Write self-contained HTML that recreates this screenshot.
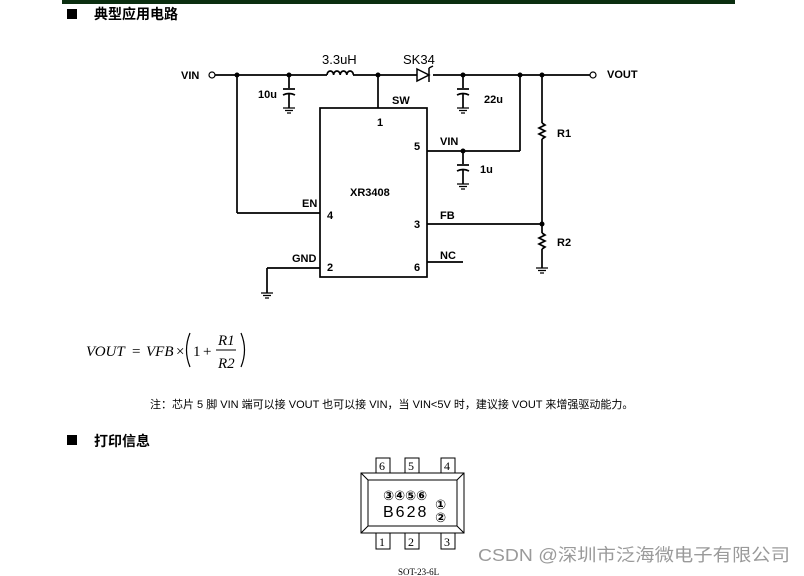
<!DOCTYPE html>
<html><head><meta charset="utf-8"><style>
body{margin:0;background:#fff;width:804px;height:576px;overflow:hidden}
svg{display:block}
.b{font-family:"Liberation Sans","Noto Sans CJK SC",sans-serif;font-weight:bold;font-size:11px;fill:#000}
.n{font-family:"Liberation Sans","Noto Sans CJK SC",sans-serif;font-size:13px;fill:#000}
</style></head><body>
<svg width="804" height="576" viewBox="0 0 804 576" xmlns="http://www.w3.org/2000/svg">
<rect x="62" y="0" width="673" height="4" fill="#0b2e10"/>
<rect x="67" y="9" width="10" height="10" fill="#000"/>
<text x="94" y="19" font-family="Liberation Sans,Noto Sans CJK SC,sans-serif" font-weight="bold" font-size="14">典型应用电路</text>
<g stroke="#000" stroke-width="1.7" fill="none">
<line x1="215" y1="75" x2="327" y2="75"/>
<path d="M327 75 a3.3 4 0 0 1 6.6 0 a3.3 4 0 0 1 6.6 0 a3.3 4 0 0 1 6.6 0 a3.3 4 0 0 1 6.6 0"/>
<line x1="353" y1="75" x2="417" y2="75"/>
<line x1="433" y1="75" x2="590" y2="75"/>
<line x1="237" y1="75" x2="237" y2="213"/><line x1="237" y1="213" x2="320" y2="213"/>
<line x1="378" y1="75" x2="378" y2="108"/>
<rect x="320" y="108" width="107" height="169"/>
<line x1="427" y1="151" x2="520" y2="151"/><line x1="520" y1="75" x2="520" y2="151"/>
<line x1="427" y1="224" x2="542" y2="224"/>
<line x1="427" y1="262" x2="463" y2="262"/>
<line x1="320" y1="268" x2="267" y2="268"/><line x1="267" y1="268" x2="267" y2="293"/>
<line x1="542" y1="75" x2="542" y2="123"/><path d="M542 123 l3 2 l-6 3 l6 3 l-6 3 l6 3 l-3 2"/><line x1="542" y1="139" x2="542" y2="233"/>
<path d="M542 233 l3 2 l-6 3 l6 3 l-6 3 l6 3 l-3 2"/><line x1="542" y1="249" x2="542" y2="268"/>
</g>
<g stroke="#000" stroke-width="1.7" fill="none">
<line x1="289" y1="75" x2="289" y2="88"/><line x1="283" y1="89" x2="295" y2="89"/><path d="M283 95 q6 -3 12 0"/><line x1="289" y1="94" x2="289" y2="108"/>
<line x1="463" y1="75" x2="463" y2="88"/><line x1="457" y1="89" x2="469" y2="89"/><path d="M457 95 q6 -3 12 0"/><line x1="463" y1="94" x2="463" y2="108"/>
<line x1="463" y1="151" x2="463" y2="164"/><line x1="457" y1="165" x2="469" y2="165"/><path d="M457 171 q6 -3 12 0"/><line x1="463" y1="170" x2="463" y2="184"/>
</g>
<g stroke="#000" stroke-width="1.3">
<path d="M283 108h12M285 110.5h8M287 113h4"/>
<path d="M457 108h12M459 110.5h8M461 113h4"/>
<path d="M457 184h12M459 186.5h8M461 189h4"/>
<path d="M536 268h12M538 270.5h8M540 273h4"/>
<path d="M261 293h12M263 295.5h8M265 298h4"/>
</g>
<path d="M417 69 L429 75 L417 81 Z" fill="#fff" stroke="#000" stroke-width="1.5"/>
<path d="M429 68 V82 M429 68 l4 -2" stroke="#000" stroke-width="1.5" fill="none"/>
<g fill="#000"><circle cx="237" cy="75" r="2.5"/><circle cx="289" cy="75" r="2.5"/><circle cx="378" cy="75" r="2.5"/><circle cx="463" cy="75" r="2.5"/><circle cx="520" cy="75" r="2.5"/><circle cx="542" cy="75" r="2.5"/><circle cx="463" cy="151" r="2.5"/><circle cx="542" cy="224" r="2.5"/></g>
<circle cx="212" cy="75" r="3" fill="#fff" stroke="#000" stroke-width="1.2"/>
<circle cx="593" cy="75" r="3" fill="#fff" stroke="#000" stroke-width="1.2"/>
<text class="b" x="181" y="79">VIN</text>
<text class="b" x="607" y="78">VOUT</text>
<text class="n" x="322" y="64">3.3uH</text>
<text class="n" x="403" y="64">SK34</text>
<text class="b" x="258" y="98">10u</text>
<text class="b" x="484" y="103">22u</text>
<text class="b" x="392" y="104">SW</text>
<text class="b" x="377" y="126">1</text>
<text class="b" x="440" y="145">VIN</text>
<text class="b" x="414" y="150">5</text>
<text class="b" x="480" y="173">1u</text>
<text class="b" x="350" y="196">XR3408</text>
<text class="b" x="302" y="207">EN</text>
<text class="b" x="327" y="219">4</text>
<text class="b" x="440" y="219">FB</text>
<text class="b" x="414" y="228">3</text>
<text class="b" x="440" y="259">NC</text>
<text class="b" x="292" y="262">GND</text>
<text class="b" x="327" y="271">2</text>
<text class="b" x="414" y="271">6</text>
<text class="b" x="557" y="137">R1</text>
<text class="b" x="557" y="246">R2</text>
<g font-family="Liberation Serif,serif" font-size="15" font-style="italic">
<text x="86" y="356">VOUT</text><text x="132" y="356" font-style="normal">=</text><text x="146" y="356">VFB</text>
<text x="176" y="356" font-style="normal">×</text>
<text x="193" y="356" font-style="normal">1</text><text x="203" y="356" font-style="normal">+</text>
<text x="218" y="345">R1</text><text x="218" y="368">R2</text>
</g>
<line x1="216" y1="350" x2="236" y2="350" stroke="#000"/>
<path d="M190 333 q-7 17 0 34 M241 333 q7 17 0 34" stroke="#000" stroke-width="1.2" fill="none"/>
<text x="150" y="408" font-family="Liberation Sans,Noto Sans CJK SC,sans-serif" font-size="11">注：芯片 5 脚 VIN 端可以接 VOUT 也可以接 VIN，当 VIN&lt;5V 时，建议接 VOUT 来增强驱动能力。</text>
<rect x="67" y="435" width="10" height="10" fill="#000"/>
<text x="94" y="446" font-family="Liberation Sans,Noto Sans CJK SC,sans-serif" font-weight="bold" font-size="14">打印信息</text>
<g stroke="#000" stroke-width="1" fill="#fff">
<rect x="376" y="458" width="14" height="15"/><rect x="405" y="458" width="14" height="15"/><rect x="441" y="458" width="14" height="15"/>
<rect x="376" y="533" width="14" height="16"/><rect x="405" y="533" width="14" height="16"/><rect x="441" y="533" width="14" height="16"/>
<rect x="361" y="473" width="103" height="60"/>
<rect x="368" y="480" width="89" height="46"/>
<path d="M361 473 L368 480 M464 473 L457 480 M361 533 L368 526 M464 533 L457 526"/>
</g>
<g font-family="Liberation Serif,serif" font-size="12">
<text x="379" y="470">6</text><text x="408" y="470">5</text><text x="444" y="470">4</text>
<text x="379" y="546">1</text><text x="408" y="546">2</text><text x="444" y="546">3</text>
</g>
<g font-family="DejaVu Sans,sans-serif" font-size="13" font-weight="bold"><text x="383" y="500">③④⑤⑥</text><text x="435" y="509">①</text><text x="435" y="522">②</text></g>
<text x="383" y="517" font-family="Liberation Sans,sans-serif" font-size="16" letter-spacing="2">B628</text>
<text x="398" y="575" font-family="Liberation Serif,serif" font-size="9">SOT-23-6L</text>
<text x="478" y="561" font-family="Liberation Sans,Noto Sans CJK SC,sans-serif" font-size="17.5" fill="#9a9a9a" textLength="312" lengthAdjust="spacingAndGlyphs">CSDN @深圳市泛海微电子有限公司</text>
</svg>
</body></html>
